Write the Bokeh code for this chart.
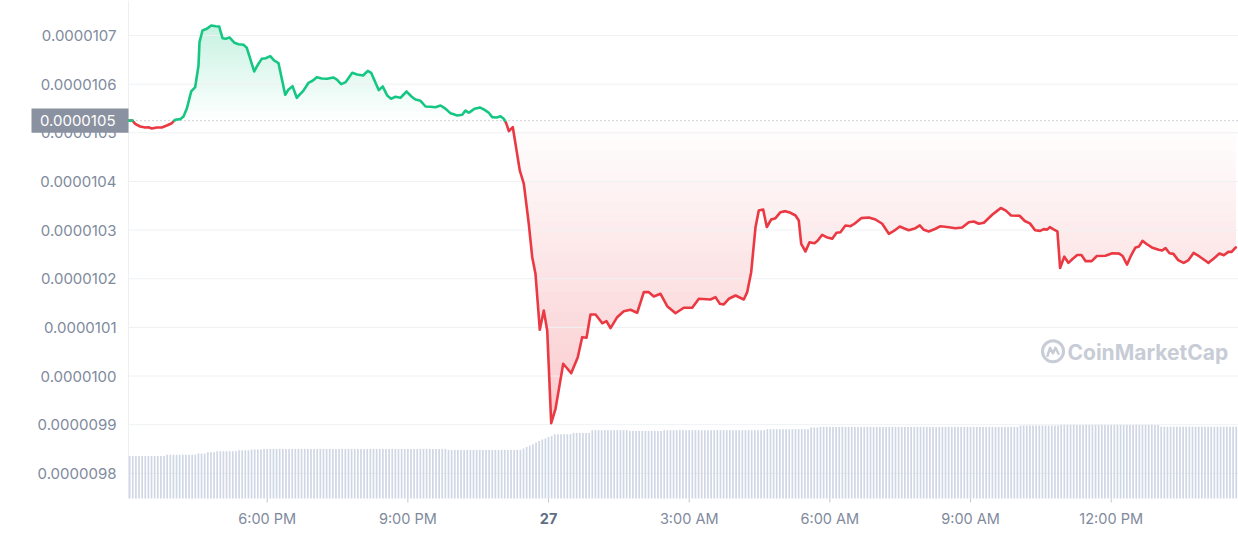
import numpy as np
from bokeh.plotting import figure
from bokeh.models import Range1d, Label
from bokeh.core.properties import value
from bokeh.embed import file_html
from bokeh.resources import INLINE

# ---------------- data ----------------
# time: hours since 00:00 on the 26th; price: units of 1e-7 USD
time_h = [15.042, 15.127, 15.185, 15.291, 15.398, 15.468, 15.539, 15.646, 15.752, 15.859,
          15.965, 16.038, 16.145, 16.215, 16.285, 16.379, 16.464, 16.535, 16.556, 16.620,
          16.712, 16.806, 16.904, 16.976, 17.047, 17.117, 17.196, 17.303, 17.388, 17.495,
          17.565, 17.723, 17.800, 17.885, 17.970, 18.064, 18.149, 18.241, 18.384, 18.454,
          18.540, 18.631, 18.774, 18.881, 18.966, 19.058, 19.164, 19.280, 19.408, 19.493,
          19.578, 19.670, 19.813, 19.919, 20.047, 20.146, 20.218, 20.310, 20.380, 20.465,
          20.559, 20.645, 20.736, 20.843, 20.971, 21.071, 21.163, 21.269, 21.376, 21.483,
          21.589, 21.696, 21.803, 21.909, 22.052, 22.159, 22.229, 22.300, 22.421, 22.534,
          22.634, 22.726, 22.799, 22.890, 22.976, 23.046, 23.097, 23.153, 23.238, 23.387,
          23.473, 23.579, 23.652, 23.722, 23.814, 23.899, 23.972, 24.057, 24.149, 24.313,
          24.483, 24.624, 24.718, 24.810, 24.895, 25.002, 25.145, 25.236, 25.322, 25.464,
          25.605, 25.748, 25.891, 26.032, 26.139, 26.245, 26.388, 26.531, 26.708, 26.885,
          27.064, 27.205, 27.454, 27.561, 27.653, 27.738, 27.845, 27.988, 28.164, 28.237,
          28.322, 28.414, 28.484, 28.578, 28.655, 28.749, 28.841, 28.947, 29.054, 29.160,
          29.267, 29.337, 29.389, 29.480, 29.566, 29.672, 29.743, 29.836, 29.928, 30.050,
          30.142, 30.227, 30.333, 30.440, 30.525, 30.668, 30.830, 30.973, 31.116, 31.257,
          31.379, 31.492, 31.577, 31.683, 31.826, 31.918, 32.003, 32.110, 32.253, 32.360,
          32.537, 32.680, 32.822, 32.963, 33.070, 33.176, 33.283, 33.462, 33.646, 33.754,
          33.865, 34.047, 34.157, 34.266, 34.377, 34.486, 34.561, 34.633, 34.691, 34.780,
          34.853, 34.910, 35.000, 35.087, 35.181, 35.277, 35.365, 35.452, 35.584, 35.695,
          35.876, 36.023, 36.171, 36.243, 36.339, 36.426, 36.520, 36.595, 36.667, 36.755,
          36.866, 37.011, 37.086, 37.158, 37.245, 37.327, 37.429, 37.546, 37.649, 37.757,
          37.890, 38.073, 38.182, 38.308, 38.402, 38.498, 38.570, 38.657]
price_e7 = [105.250, 105.250, 105.185, 105.129, 105.109, 105.115, 105.088, 105.109, 105.109, 105.150,
            105.197, 105.267, 105.280, 105.335, 105.493, 105.849, 105.937, 106.383, 106.862, 107.103,
            107.138, 107.206, 107.191, 107.185, 106.944, 106.932, 106.959, 106.850, 106.821, 106.809,
            106.747, 106.260, 106.398, 106.521, 106.533, 106.575, 106.486, 106.431, 105.781, 105.890,
            105.958, 105.719, 105.869, 106.028, 106.069, 106.143, 106.116, 106.110, 106.137, 106.089,
            105.999, 106.040, 106.233, 106.198, 106.178, 106.274, 106.233, 106.028, 105.876, 105.952,
            105.767, 105.699, 105.740, 105.719, 105.849, 105.752, 105.684, 105.658, 105.541, 105.534,
            105.526, 105.561, 105.493, 105.403, 105.356, 105.370, 105.458, 105.411, 105.493, 105.520,
            105.473, 105.411, 105.321, 105.314, 105.341, 105.288, 105.197, 105.033, 105.115, 104.225,
            103.952, 103.129, 102.443, 102.102, 100.951, 101.347, 100.936, 99.031, 99.327, 100.252,
            100.059, 100.388, 100.799, 100.786, 101.265, 101.265, 101.086, 101.128, 100.984, 101.210,
            101.333, 101.362, 101.300, 101.724, 101.724, 101.635, 101.691, 101.436, 101.292, 101.403,
            101.403, 101.588, 101.573, 101.621, 101.485, 101.471, 101.588, 101.656, 101.573, 101.724,
            102.135, 103.060, 103.403, 103.423, 103.064, 103.218, 103.245, 103.368, 103.389, 103.356,
            103.300, 103.197, 102.718, 102.560, 102.751, 102.731, 102.786, 102.903, 102.854, 102.821,
            102.944, 102.957, 103.095, 103.080, 103.130, 103.245, 103.259, 103.218, 103.130, 102.924,
            102.992, 103.074, 103.039, 102.998, 103.039, 103.095, 103.006, 102.971, 103.027, 103.080,
            103.060, 103.039, 103.053, 103.162, 103.177, 103.130, 103.150, 103.314, 103.454, 103.399,
            103.300, 103.294, 103.187, 103.138, 102.996, 102.984, 103.019, 103.010, 103.060, 103.010,
            102.975, 102.221, 102.453, 102.326, 102.412, 102.488, 102.488, 102.363, 102.363, 102.468,
            102.474, 102.523, 102.517, 102.468, 102.291, 102.482, 102.644, 102.665, 102.778, 102.714,
            102.644, 102.595, 102.581, 102.630, 102.523, 102.511, 102.383, 102.326, 102.383, 102.531,
            102.453, 102.326, 102.412, 102.517, 102.482, 102.552, 102.552, 102.644]

# volume bars (one every 4 minutes from 15:04), relative units, read as runs of equal bars
vol_levels = [4.26, 4.38, 4.50, 4.63, 4.73, 4.83, 4.90, 4.96, 4.86,
              5.00, 5.16, 5.30, 5.43, 5.60, 5.76, 5.90, 6.00, 6.15, 6.26,
              6.43, 6.56, 6.83, 6.76, 6.83, 6.93, 7.10, 7.16, 7.30, 7.36, 7.18]
vol_counts = [12, 10, 3, 3, 7, 4, 4, 59, 24,
              1, 1, 1, 1, 1, 1, 1, 1, 1, 1,
              6, 6, 12, 11, 33, 14, 3, 64, 13, 32, 25]
bar_start_h = 15 + 4 / 60
bar_step_h = 4 / 60

y_tick_e7 = [98, 99, 100, 101, 102, 103, 104, 105, 106, 107]
y_tick_labels = ["0.0000098", "0.0000099", "0.0000100", "0.0000101", "0.0000102",
                 "0.0000103", "0.0000104", "0.0000105", "0.0000106", "0.0000107"]
x_tick_h = [18, 21, 24, 27, 30, 33, 36]
x_tick_labels = ["6:00 PM", "9:00 PM", "27", "3:00 AM", "6:00 AM", "9:00 AM", "12:00 PM"]
open_tag = "0.0000105"

# ---------------- styling / geometry ----------------
FONT = "Inter"
GREEN = (22, 199, 132)
RED = (234, 57, 67)
LABEL_C = "#808a9d"
W, H = 1238, 533

# plot area (data extent): time 15.042 .. 38.715 h, price 97.483 .. 107.719 (e-7)
PX0, PX1 = 15.042, 38.715
PY0, PY1 = 97.483e-7, 107.719e-7
AREA_LEFT_PX, AREA_BOTTOM_PX = 128, 498
px_h = (PX1 - PX0) / (W - AREA_LEFT_PX)          # hours per pixel
px_v = (PY1 - PY0) / AREA_BOTTOM_PX              # price per pixel
x_range = Range1d(PX0 - AREA_LEFT_PX * px_h, PX1)
y_range = Range1d(PY1 - H * px_v, PY1)


def tint(rgb, a):
    r, g, b = (round(255 - a * (255 - c)) for c in rgb)
    return "#%02x%02x%02x" % (r, g, b)


t = np.array(time_h, dtype=float)
v = np.array(price_e7, dtype=float) * 1e-7
base = v[0]
vmax, vmin = v.max(), v.min()

n_layers = 30
g_levels = np.linspace(base, vmax, n_layers + 1)
r_levels = np.linspace(vmin, base, n_layers + 1)
levels = np.unique(np.concatenate([g_levels, r_levels]))

# insert exact crossings of the polyline with the gradient levels (pure geometry)
xs, ys = [t[0]], [v[0]]
for i in range(len(t) - 1):
    x0, x1, y0, y1 = t[i], t[i + 1], v[i], v[i + 1]
    if y1 != y0:
        lo, hi = min(y0, y1), max(y0, y1)
        cross = levels[(levels > lo) & (levels < hi)]
        fr = (cross - y0) / (y1 - y0)
        order = np.argsort(fr)
        for f, c in zip(fr[order], cross[order]):
            xs.append(x0 + f * (x1 - x0))
            ys.append(c)
    xs.append(x1)
    ys.append(y1)
xs = np.array(xs)
ys = np.array(ys)

p = figure(width=W, height=H, output_backend="svg", toolbar_location=None,
           x_range=x_range, y_range=y_range, x_axis_type=None, y_axis_type=None,
           min_border=0, min_border_left=0, min_border_right=0, min_border_top=0,
           min_border_bottom=0, outline_line_color=None,
           background_fill_color="white", border_fill_color="white")
p.grid.visible = False

# volume scale: zero at the bottom of the plot area, 10 px per unit
vol_px = 0.1
p.extra_y_ranges = {"vol": Range1d(-(H - AREA_BOTTOM_PX) * vol_px, AREA_BOTTOM_PX * vol_px)}

# gradient fills: nested opaque layers, drawn beneath the grid
G_MAX, R_MAX = 0.24, 0.27
for k in range(n_layers):
    L = g_levels[k]
    p.varea(x=xs, y1=np.full_like(ys, L), y2=np.maximum(ys, L),
            fill_color=tint(GREEN, G_MAX * (k + 0.5) / n_layers), level="image")
for k in range(n_layers):
    L = r_levels[n_layers - k]
    p.varea(x=xs, y1=np.minimum(ys, L), y2=np.full_like(ys, L),
            fill_color=tint(RED, R_MAX * (k + 0.5) / n_layers), level="image")

# horizontal grid lines at the y ticks
yt = np.array(y_tick_e7) * 1e-7
p.segment(x0=np.full(len(yt), PX0), x1=np.full(len(yt), PX1), y0=yt, y1=yt,
          line_color="#eef1f4", line_width=1, level="underlay")

# y axis line
p.segment(x0=[PX0], x1=[PX0], y0=[PY0], y1=[PY1], line_color="#eceff3", line_width=1,
          level="underlay")

# volume bars
vol = np.repeat(vol_levels, vol_counts)
bar_t = bar_start_h + np.arange(len(vol)) * bar_step_h
p.vbar(x=bar_t, top=vol, bottom=0, width=0.036, y_range_name="vol",
       fill_color="#cfd6e4", line_color=None)

# dotted baseline (opening price)
p.segment(x0=[PX0], x1=[PX1], y0=[base], y1=[base], line_color="#a3a9b5",
          line_dash="1 3", line_width=1)

# price line split at the baseline
eps = 1e-15
yg = np.where(ys >= base - eps, ys, np.nan)
yr = np.where(ys <= base + eps, ys, np.nan)
p.line(xs, yr, line_color=tint(RED, 1), line_width=2.6, line_join="round", line_cap="round")
p.line(xs, yg, line_color=tint(GREEN, 1), line_width=2.6, line_join="round", line_cap="round")

# y tick labels
p.text(x=np.full(len(yt), PX0), y=yt, text=y_tick_labels, x_offset=-12,
       text_align="right", text_baseline="middle", text_font=value(FONT),
       text_font_size="15px", text_color=LABEL_C)

# x tick marks and labels
xt = np.array(x_tick_h, dtype=float)
p.segment(x0=xt, x1=xt, y0=np.full(len(xt), PY0), y1=np.full(len(xt), PY0 - 4 * px_v),
          line_color="#c3c8d1", line_width=1)
normal = [i for i, lab in enumerate(x_tick_labels) if lab != "27"]
bold = [i for i, lab in enumerate(x_tick_labels) if lab == "27"]
label_y = PY0 - 20 * px_v
p.text(x=xt[normal], y=np.full(len(normal), label_y), text=[x_tick_labels[i] for i in normal],
       text_align="center", text_baseline="middle", text_font=value(FONT),
       text_font_size="14.5px", text_color=LABEL_C)
p.text(x=xt[bold], y=np.full(len(bold), label_y), text=[x_tick_labels[i] for i in bold],
       text_align="center", text_baseline="middle", text_font=value(FONT),
       text_font_size="14.5px", text_font_style="bold", text_color="#616e85")

# opening-price tag on the y axis (box left of the axis, at the baseline price)
p.quad(left=[PX0 - 97 * px_h], right=[PX0], bottom=[base - 12.2 * px_v], top=[base + 12.2 * px_v],
       fill_color="#8a91a0", line_color=None)
p.text(x=[PX0], y=[base], text=[open_tag], x_offset=-13, text_align="right",
       text_baseline="middle", text_font=value(FONT), text_font_size="15px",
       text_color="white")

# watermark
WM = "#c7ccd6"
cx, cy = 34.759, 100.509e-7
p.scatter([cx], [cy], size=21, marker="circle", fill_color=None, line_color=WM, line_width=3)
mx = [cx + d * px_h for d in (-5.5, -3.0, 0.0, 2.5, 5.5)]
my = [cy + d * px_v for d in (-4.5, 3.5, -2.0, 3.5, -2.5)]
p.line(mx, my, line_color=WM, line_width=2.5, line_join="round", line_cap="round")
p.add_layout(Label(x=35.068, y=100.49e-7, text="CoinMarketCap", text_align="left",
                   text_baseline="middle", text_font=FONT, text_font_size="21px",
                   text_font_style="bold", text_color=WM))

open("out.html", "w").write(file_html(p, INLINE))
